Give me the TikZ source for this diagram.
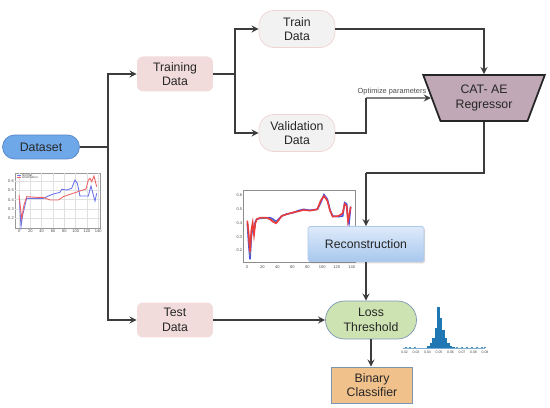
\documentclass[tikz,border=0pt]{standalone}
\usepackage{fontspec}
\setmainfont{Liberation Sans}
\usetikzlibrary{arrows,shapes,shadows}
\definecolor{dsblue}{RGB}{111,168,232}
\definecolor{dsedge}{RGB}{84,132,200}
\definecolor{pinkfill}{RGB}{242,220,219}
\definecolor{grayfill}{RGB}{243,242,242}
\definecolor{pinkedge}{RGB}{240,212,212}
\definecolor{regfill}{RGB}{192,168,182}
\definecolor{rectop}{RGB}{222,235,250}
\definecolor{recbot}{RGB}{168,199,238}
\definecolor{recedge}{RGB}{176,200,232}
\definecolor{lossfill}{RGB}{206,227,178}
\definecolor{binfill}{RGB}{241,193,140}
\definecolor{boxedge}{RGB}{122,150,180}
\definecolor{linegray}{RGB}{60,60,60}
\definecolor{txtgray}{RGB}{38,38,38}
\definecolor{histblue}{RGB}{31,119,180}
\definecolor{plotblue}{RGB}{70,80,230}
\definecolor{plotred}{RGB}{235,60,60}
\tikzstyle{txt}=[font=\fontsize{7}{8.4}\selectfont,text=txtgray,align=center,inner sep=0pt]
\tikzstyle{dset}=[txt,rectangle,rounded corners=0.24cm,draw=dsedge,fill=dsblue,minimum width=1.54cm,minimum height=0.48cm]
\tikzstyle{pinkbox}=[txt,rectangle,rounded corners=0.12cm,fill=pinkfill,minimum width=1.52cm,minimum height=0.7cm]
\tikzstyle{graypill}=[txt,rectangle,rounded corners=0.3cm,draw=pinkedge,fill=grayfill,minimum width=1.52cm,minimum height=0.74cm]
\tikzstyle{regbox}=[txt,trapezium,trapezium angle=66.5,trapezium stretches=true,shape border rotate=180,draw=black!85,line width=1pt,fill=regfill,minimum width=2.44cm,minimum height=0.92cm]
\tikzstyle{recbox}=[txt,rectangle,rounded corners=1pt,top color=rectop,bottom color=recbot,draw=recedge,minimum width=2.32cm,minimum height=0.7cm,drop shadow={shadow xshift=0.6pt,shadow yshift=-1pt,opacity=0.3}]
\tikzstyle{losspill}=[txt,rectangle,rounded corners=0.38cm,draw=boxedge,fill=lossfill,minimum width=1.82cm,minimum height=0.76cm]
\tikzstyle{binbox}=[txt,rectangle,draw=boxedge,fill=binfill,minimum width=1.62cm,minimum height=0.72cm]
\tikzstyle{link}=[line width=0.8pt,draw=linegray]
\tikzstyle{flow}=[->,>=stealth,line width=0.8pt,draw=linegray]
\tikzstyle{tick}=[font=\fontsize{2.3}{2.5}\selectfont,text=black!70,inner sep=0pt]

\begin{document}
\begin{tikzpicture}[x=0.02cm,y=-0.02cm]
\useasboundingbox (0,0) rectangle (550,408);

% small plot under the dataset
\begin{scope}[shift={(0,165)},x=0.00667cm,y=-0.00667cm]
\draw[black!40,line width=0.3pt] (45,24) rectangle (300,189);
\foreach \gx in {57,91,125,159,193,227,261,295} \draw[black!12,line width=0.2pt] (\gx,24) -- (\gx,189);
\foreach \gy/\lab in {48/0.6,76/0.5,104/0.4,132/0.3,160/0.2} {
  \draw[black!12,line width=0.2pt] (45,\gy) -- (300,\gy);
  \node[tick] at (33,\gy) {\lab};}
\foreach \gx/\lab in {57/0,91/20,125/40,159/60,193/80,227/100,261/120,295/140}
  \node[tick] at (\gx,198) {\lab};
\draw[plotblue!80,line width=0.5pt] (58,100) -- (63,185) -- (68,150) -- (80,100) -- (100,100) -- (130,100) -- (145,93) -- (160,87) -- (180,82) -- (185,73) -- (200,75) -- (215,70) -- (225,45) -- (232,55) -- (240,93) -- (255,93) -- (265,93) -- (273,63) -- (280,90) -- (285,108) -- (290,85);
\draw[plotred!80,line width=0.5pt] (57,90) -- (65,160) -- (72,120) -- (80,95) -- (110,97) -- (130,97) -- (150,105) -- (175,105) -- (190,95) -- (210,88) -- (240,78) -- (258,72) -- (265,45) -- (270,40) -- (275,50) -- (282,33) -- (290,65);
\draw[plotblue!80,line width=0.4pt] (52,31) -- (62,31);
\node[tick,anchor=west,font=\fontsize{1.8}{2}\selectfont] at (65,31) {Normal};
\draw[plotred!80,line width=0.4pt] (52,38) -- (62,38);
\node[tick,anchor=west,font=\fontsize{1.8}{2}\selectfont] at (65,38) {Anomalous};
\end{scope}

% reconstruction plot
\begin{scope}[shift={(230,180)},x=0.00667cm,y=-0.00667cm]
\draw[black!45,line width=0.3pt] (40,30) rectangle (375,248);
\foreach \gx/\lab in {52/0,97/20,142/40,187/60,232/80,277/100,320/120,365/140}
  \node[tick] at (\gx,262) {\lab};
\foreach \gy/\lab in {45/0.6,87/0.5,128/0.4,170/0.3,210/0.2}
  \node[tick] at (28,\gy) {\lab};
\draw[plotblue,line width=0.9pt] (52,130) -- (56,190) -- (60,238) -- (64,170) -- (68,140) -- (72,150) -- (76,125) -- (80,118) -- (90,115) -- (110,114) -- (120,113) -- (130,118) -- (138,125) -- (145,118) -- (155,108) -- (170,102) -- (190,98) -- (205,92) -- (220,88) -- (240,91) -- (262,88) -- (272,68) -- (282,44) -- (292,58) -- (300,90) -- (308,108) -- (325,110) -- (338,108) -- (344,68) -- (350,72) -- (354,118) -- (357,130) -- (362,80);
\draw[black!50,line width=0.6pt] (52,126) -- (56,175) -- (60,226) -- (64,160) -- (68,134) -- (72,158) -- (76,128) -- (80,118) -- (90,114) -- (120,116) -- (130,122) -- (138,128) -- (145,120);
\draw[plotred,line width=0.9pt] (52,122) -- (56,160) -- (60,215) -- (64,150) -- (68,128) -- (72,165) -- (76,130) -- (80,118) -- (90,113) -- (110,113) -- (120,118) -- (130,126) -- (138,130) -- (145,122) -- (155,108) -- (170,103) -- (190,97) -- (205,94) -- (220,90) -- (240,92) -- (262,88) -- (272,62) -- (282,48) -- (292,62) -- (300,92) -- (308,110) -- (325,108) -- (338,100) -- (344,72) -- (350,78) -- (354,125) -- (357,110) -- (362,80);
\end{scope}

% histogram of the loss
\draw[histblue!60,line width=0.3pt] (403,348) -- (485,348);
\foreach \bx/\bh in {427/2,429.5/5,432/10,434.5/20,437/41,439.5/30,442/18,444.5/10,447/5,449.5/2,452/1.2}
  \fill[histblue] (\bx,348) rectangle ++(2.5,-\bh);
\foreach \bx in {405,409,414,456,461,466,471,476,481,484}
  \fill[histblue!80] (\bx,348) rectangle ++(1.5,-0.8);
\foreach \k/\lab in {0/0.02,1/0.03,2/0.04,3/0.05,4/0.06,5/0.07,6/0.08,7/0.09}
  \node[tick,font=\fontsize{2}{2.2}\selectfont] at (404.5+11.5*\k,352) {\lab};

\node[dset] (dataset) at (41,147) {Dataset};
\node[pinkbox] (training) at (175,74) {Training\\Data};
\node[pinkbox] (test) at (175,320) {Test\\Data};
\node[graypill] (train) at (297,29) {Train\\Data};
\node[graypill] (valid) at (297,133) {Validation\\Data};
\node[regbox] (regressor) at (484,98) {CAT- AE\\Regressor};
\node[recbox] (recon) at (366,244) {Reconstruction};
\node[losspill] (loss) at (371,320) {Loss\\Threshold};
\node[binbox] (binary) at (372,385) {Binary\\Classifier};

\coordinate (s1) at (108,147);
\coordinate (s2) at (235,74);
\coordinate (opt) at (366,98);
\coordinate (rj) at (366,173);

\draw[link] (dataset) -- (s1);
\draw[flow] (s1) |- (training);
\draw[flow] (s1) |- (test);
\draw[link] (training) -- (s2);
\draw[flow] (s2) |- (train);
\draw[flow] (s2) |- (valid);
\draw[flow] (train) -| (regressor);
\draw[link] (valid) -| (opt);
\draw[flow] (opt) -- node[pos=0.4,above=1.5pt,font=\fontsize{4.2}{5}\selectfont,text=black!70,inner sep=0pt] {Optimize parameters} (regressor);
\draw[link] (regressor) |- (rj);
\draw[flow] (rj) -- (recon);
\draw[flow] (recon.south) -- (recon.south |- loss.north);
\draw[flow] (test) -- (loss);
\draw[flow] (loss) -- (loss |- binary.north);
\end{tikzpicture}
\end{document}
